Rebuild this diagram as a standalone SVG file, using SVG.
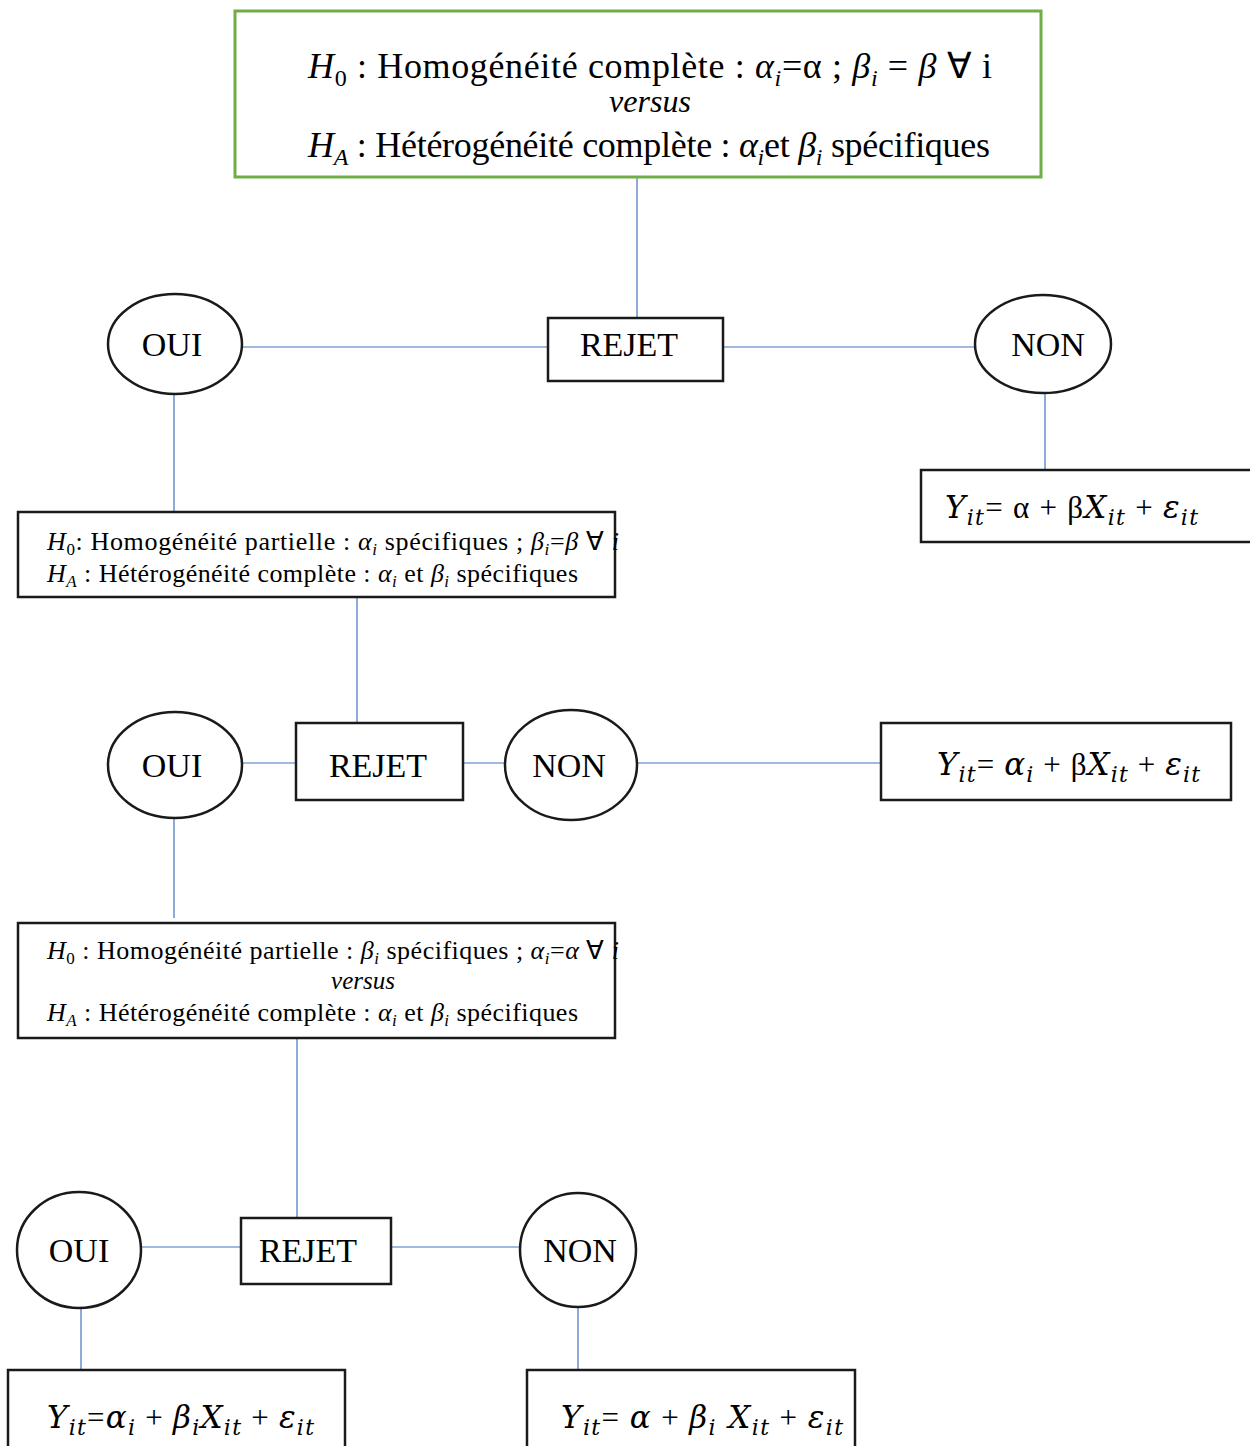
<svg xmlns="http://www.w3.org/2000/svg" width="1250" height="1446" viewBox="0 0 1250 1446">
<style>
  .box{fill:#fff;stroke:#1a1a1a;stroke-width:2.5}
  .green{fill:#fff;stroke:#70AD47;stroke-width:3}
  .ell{fill:#fff;stroke:#1a1a1a;stroke-width:2.5}
  .con line{stroke:#4472C4;stroke-width:1.2}
  text{font-family:"Liberation Serif","Times New Roman",serif;fill:#000}
  .lbl{font-size:34px;text-anchor:middle}
  .i{font-style:italic}
  .m{font-family:"DejaVu Serif","Liberation Serif",serif;font-style:italic}
</style>
<rect width="1250" height="1446" fill="#fff"/>
<g id="connectors" class="con">
  <line x1="637" y1="177" x2="637" y2="318"/>
  <line x1="242" y1="347" x2="548" y2="347"/>
  <line x1="723" y1="347" x2="975" y2="347"/>
  <line x1="1045" y1="393" x2="1045" y2="470"/>
  <line x1="174" y1="394" x2="174" y2="512"/>
  <line x1="357" y1="597" x2="357" y2="723"/>
  <line x1="242" y1="763" x2="296" y2="763"/>
  <line x1="463" y1="763" x2="505" y2="763"/>
  <line x1="637" y1="763" x2="881" y2="763"/>
  <line x1="174" y1="818" x2="174" y2="918"/>
  <line x1="297" y1="1038" x2="297" y2="1218"/>
  <line x1="141" y1="1247" x2="241" y2="1247"/>
  <line x1="391" y1="1247" x2="520" y2="1247"/>
  <line x1="81" y1="1308" x2="81" y2="1370"/>
  <line x1="578" y1="1307" x2="578" y2="1370"/>
</g>
<g id="top">
  <rect class="green" x="235" y="11" width="806" height="166"/>
  <text x="308" y="78" font-size="36" textLength="684" lengthAdjust="spacing"><tspan class="i">H</tspan><tspan font-size="24" dy="8">0</tspan><tspan dy="-8"> : Homogénéité complète : </tspan><tspan class="i">α</tspan><tspan class="i" font-size="24" dy="8">i</tspan><tspan dy="-8">=α ; </tspan><tspan class="i">β</tspan><tspan class="i" font-size="24" dy="8">i</tspan><tspan dy="-8"> = </tspan><tspan class="i">β</tspan><tspan> ∀ i</tspan></text>
  <text x="650" y="112" font-size="32" text-anchor="middle" class="i">versus</text>
  <text x="308" y="157" font-size="36" textLength="682" lengthAdjust="spacing"><tspan class="i">H</tspan><tspan class="i" font-size="24" dy="8">A</tspan><tspan dy="-8"> : Hétérogénéité complète : </tspan><tspan class="i">α</tspan><tspan class="i" font-size="24" dy="8">i</tspan><tspan dy="-8">et </tspan><tspan class="i">β</tspan><tspan class="i" font-size="24" dy="8">i</tspan><tspan dy="-8"> spécifiques</tspan></text>
</g>
<g id="rejet1">
  <rect class="box" x="548" y="318" width="175" height="63"/>
  <text class="lbl" x="629" y="356">REJET</text>
</g>
<g id="oui1">
  <ellipse class="ell" cx="175" cy="344" rx="67" ry="50"/>
  <text class="lbl" x="172" y="356">OUI</text>
</g>
<g id="non1">
  <ellipse class="ell" cx="1043" cy="344" rx="68" ry="49"/>
  <text class="lbl" x="1048" y="356">NON</text>
</g>
<g id="model1">
  <rect class="box" x="921" y="470" width="340" height="72"/>
  <text x="945" y="518" font-size="31" textLength="253" lengthAdjust="spacing"><tspan class="m">Y</tspan><tspan class="m" font-size="22" dy="7">it</tspan><tspan dy="-7">= α + β</tspan><tspan class="m">X</tspan><tspan class="m" font-size="22" dy="7">it</tspan><tspan dy="-7"> + </tspan><tspan class="m">ε</tspan><tspan class="m" font-size="22" dy="7">it</tspan></text>
</g>
<g id="test2">
  <rect class="box" x="18" y="512" width="597" height="85"/>
  <text x="47" y="550" font-size="26" textLength="572" lengthAdjust="spacing"><tspan class="i">H</tspan><tspan font-size="17" dy="5">0</tspan><tspan dy="-5">: Homogénéité partielle : </tspan><tspan class="i">α</tspan><tspan class="i" font-size="17" dy="5">i</tspan><tspan dy="-5"> spécifiques ; </tspan><tspan class="i">β</tspan><tspan class="i" font-size="17" dy="5">i</tspan><tspan dy="-5">=</tspan><tspan class="i">β</tspan><tspan> ∀ </tspan><tspan class="i">i</tspan></text>
  <text x="47" y="582" font-size="26" textLength="531" lengthAdjust="spacing"><tspan class="i">H</tspan><tspan class="i" font-size="17" dy="5">A</tspan><tspan dy="-5"> : Hétérogénéité complète : </tspan><tspan class="i">α</tspan><tspan class="i" font-size="17" dy="5">i</tspan><tspan dy="-5"> et </tspan><tspan class="i">β</tspan><tspan class="i" font-size="17" dy="5">i</tspan><tspan dy="-5"> spécifiques</tspan></text>
</g>
<g id="oui2">
  <ellipse class="ell" cx="175" cy="765" rx="67" ry="53"/>
  <text class="lbl" x="172" y="777">OUI</text>
</g>
<g id="rejet2">
  <rect class="box" x="296" y="723" width="167" height="77"/>
  <text class="lbl" x="378" y="777">REJET</text>
</g>
<g id="non2">
  <ellipse class="ell" cx="571" cy="765" rx="66" ry="55"/>
  <text class="lbl" x="569" y="777">NON</text>
</g>
<g id="model2">
  <rect class="box" x="881" y="723" width="350" height="77"/>
  <text x="937" y="775" font-size="31" textLength="263" lengthAdjust="spacing"><tspan class="m">Y</tspan><tspan class="m" font-size="22" dy="7">it</tspan><tspan dy="-7">= </tspan><tspan class="m">α</tspan><tspan class="m" font-size="22" dy="7">i</tspan><tspan dy="-7"> + β</tspan><tspan class="m">X</tspan><tspan class="m" font-size="22" dy="7">it</tspan><tspan dy="-7"> + </tspan><tspan class="m">ε</tspan><tspan class="m" font-size="22" dy="7">it</tspan></text>
</g>
<g id="test3">
  <rect class="box" x="18" y="923" width="597" height="115"/>
  <text x="47" y="959" font-size="26" textLength="572" lengthAdjust="spacing"><tspan class="i">H</tspan><tspan font-size="17" dy="5">0</tspan><tspan dy="-5"> : Homogénéité partielle : </tspan><tspan class="i">β</tspan><tspan class="i" font-size="17" dy="5">i</tspan><tspan dy="-5"> spécifiques ; </tspan><tspan class="i">α</tspan><tspan class="i" font-size="17" dy="5">i</tspan><tspan dy="-5">=</tspan><tspan class="i">α</tspan><tspan> ∀ </tspan><tspan class="i">i</tspan></text>
  <text x="363" y="989" font-size="25" text-anchor="middle" class="i">versus</text>
  <text x="47" y="1021" font-size="26" textLength="531" lengthAdjust="spacing"><tspan class="i">H</tspan><tspan class="i" font-size="17" dy="5">A</tspan><tspan dy="-5"> : Hétérogénéité complète : </tspan><tspan class="i">α</tspan><tspan class="i" font-size="17" dy="5">i</tspan><tspan dy="-5"> et </tspan><tspan class="i">β</tspan><tspan class="i" font-size="17" dy="5">i</tspan><tspan dy="-5"> spécifiques</tspan></text>
</g>
<g id="oui3">
  <ellipse class="ell" cx="79" cy="1250" rx="62" ry="58"/>
  <text class="lbl" x="79" y="1262">OUI</text>
</g>
<g id="rejet3">
  <rect class="box" x="241" y="1218" width="150" height="66"/>
  <text class="lbl" x="308" y="1262">REJET</text>
</g>
<g id="non3">
  <ellipse class="ell" cx="578" cy="1250" rx="58" ry="57"/>
  <text class="lbl" x="580" y="1262">NON</text>
</g>
<g id="model3">
  <rect class="box" x="8" y="1370" width="337" height="90"/>
  <text x="47" y="1428" font-size="31" textLength="267" lengthAdjust="spacing"><tspan class="m">Y</tspan><tspan class="m" font-size="22" dy="7">it</tspan><tspan dy="-7">=</tspan><tspan class="m">α</tspan><tspan class="m" font-size="22" dy="7">i</tspan><tspan dy="-7"> + </tspan><tspan class="m">β</tspan><tspan class="m" font-size="22" dy="7">i</tspan><tspan class="m" dy="-7">X</tspan><tspan class="m" font-size="22" dy="7">it</tspan><tspan dy="-7"> + </tspan><tspan class="m">ε</tspan><tspan class="m" font-size="22" dy="7">it</tspan></text>
</g>
<g id="model4">
  <rect class="box" x="527" y="1370" width="328" height="90"/>
  <text x="561" y="1428" font-size="31" textLength="282" lengthAdjust="spacing"><tspan class="m">Y</tspan><tspan class="m" font-size="22" dy="7">it</tspan><tspan dy="-7">= </tspan><tspan class="m">α</tspan><tspan> +  </tspan><tspan class="m">β</tspan><tspan class="m" font-size="22" dy="7">i</tspan><tspan class="m" dy="-7"> X</tspan><tspan class="m" font-size="22" dy="7">it</tspan><tspan dy="-7"> + </tspan><tspan class="m">ε</tspan><tspan class="m" font-size="22" dy="7">it</tspan></text>
</g>
</svg>
